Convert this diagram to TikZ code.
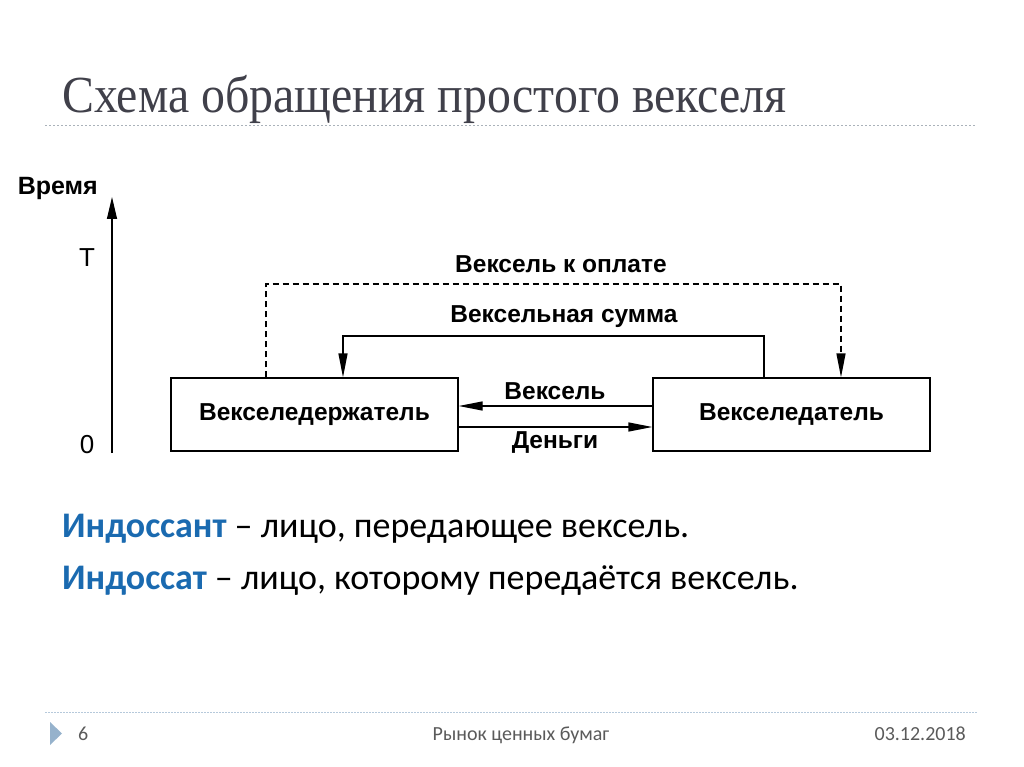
\documentclass[tikz,border=0pt]{standalone}
\usepackage{fontspec}
\setmainfont{Carlito}
\newfontfamily\titlefont[FakeStretch=0.92]{Liberation Serif}
\newfontfamily\schemefont{Liberation Sans}
\usetikzlibrary{arrows.meta,positioning}
\definecolor{titlegray}{RGB}{64,64,74}
\definecolor{termblue}{RGB}{26,106,176}
\definecolor{rulegray}{RGB}{170,178,186}
\definecolor{footgray}{RGB}{90,90,90}
\definecolor{footblue}{RGB}{150,178,204}
\tikzset{
  party/.style={draw,line width=1.3pt,minimum width=287pt,minimum height=73pt,
    font=\schemefont\bfseries\fontsize{24.5}{26}\selectfont},
  flowlabel/.style={font=\schemefont\bfseries\fontsize{24.5}{26}\selectfont},
  flow/.style={line width=1.3pt,-{Triangle[length=24pt,width=9pt]}},
  axislabel/.style={font=\schemefont\fontsize{26}{28}\selectfont},
}
\begin{document}
\begin{tikzpicture}[x=1pt,y=-1pt]
                \useasboundingbox (0,0) rectangle (1024,767);
                % title
                \node[anchor=base west,inner sep=0pt,text=titlegray,
                  font=\titlefont\fontsize{52}{56}\selectfont] (title) at (62,113) {Схема обращения простого векселя};
                \draw[rulegray,line width=1pt,dash pattern=on 2pt off 2pt] (45,126)--(975,126);
                % time axis
                \coordinate (axis0) at (112,453);
                \coordinate (axisT) at (112,197);
                \draw[line width=1.3pt,-{Triangle[length=22pt,width=10pt]}] (axis0)--(axisT);
                \node[anchor=base east,inner sep=0pt,font=\schemefont\bfseries\fontsize{25}{27}\selectfont] (time) at (98,195) {Время};
                \node[axislabel] (tmark) at (87,258) {Т};
                \node[axislabel] (zmark) at (87,445) {0};
                % parties
                \node[party] (holder) at (314.5,414.5) {Векселедержатель};
                \node[party,minimum width=277pt] (drawer) at (791.5,414.5) {Векселедатель};
                % flows
                \coordinate (dashL) at (266,284);
                \coordinate (dashR) at (841,284);
                \draw[flow,dash pattern=on 6pt off 4pt] (holder.north -| dashL)--(dashL)--(dashR)--(drawer.north -| dashR);
                \node[flowlabel] (payment) at (561,264) {Вексель к оплате};
                \coordinate (sumR) at (764,336);
                \coordinate (sumL) at (343,336);
                \draw[flow] (drawer.north -| sumR)--(sumR)--(sumL)--(holder.north -| sumL);
                \node[flowlabel] (sum) at (564,317) {Вексельная сумма};
                \coordinate (billY) at (0,406);
                \coordinate (moneyY) at (0,427);
                \draw[flow] (drawer.west |- billY)--(holder.east |- billY);
                \draw[flow] (holder.east |- moneyY)--(drawer.west |- moneyY);
                \node[flowlabel] (bill) at (555,391) {Вексель};
                \node[flowlabel] (money) at (555,443) {Деньги};
                % definitions
                \node[anchor=base west,inner sep=0pt,font=\fontsize{36}{40}\selectfont] (endorser) at (62,537)
                  {\textcolor{termblue}{\bfseries Индоссант} – лицо, передающее вексель.};
                \node[anchor=base west,inner sep=0pt,font=\fontsize{36}{40}\selectfont] (endorsee) at (62,589)
                  {\textcolor{termblue}{\bfseries Индоссат} – лицо, которому передаётся вексель.};
                % footer
                \draw[footblue!70,line width=1pt,dash pattern=on 1.5pt off 1.5pt] (45,712)--(978,712);
                \fill[footblue] (50,722)--(62,733.5)--(50,745)--cycle;
                \node[anchor=base west,inner sep=0pt,text=footgray,font=\fontsize{20}{22}\selectfont] (page) at (78,740) {6};
                \node[anchor=base,inner sep=0pt,text=footgray,font=\fontsize{20}{22}\selectfont] (course) at (521,740) {Рынок ценных бумаг};
                \node[anchor=base east,inner sep=0pt,text=footgray,font=\fontsize{20}{22}\selectfont] (date) at (966,740) {03.12.2018};
            \end{tikzpicture}
\end{document}
